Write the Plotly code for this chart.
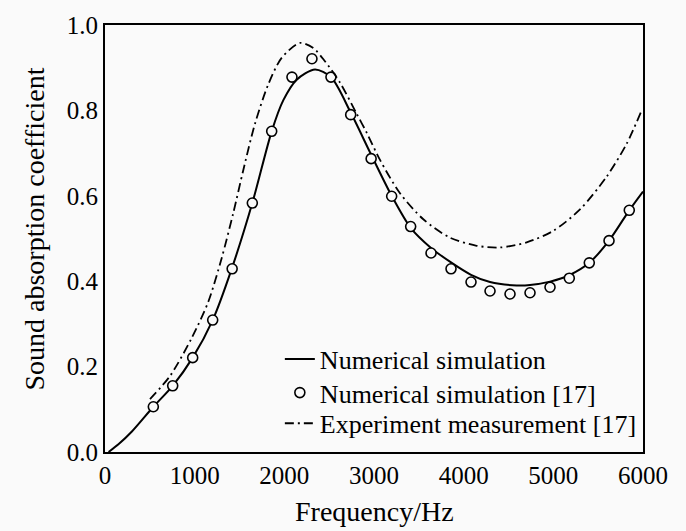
import plotly.graph_objects as go

# Numerical simulation (solid line)
sim_f = [40, 150, 300, 539, 755, 978, 1201, 1413, 1643, 1859, 1989, 2138, 2342, 2520, 2740,
         2960, 3197, 3409, 3636, 3859, 4082, 4294, 4591, 4740, 4963, 5178, 5401, 5621, 5847, 6000]
sim_a = [0.0, 0.018, 0.048, 0.106, 0.155, 0.221, 0.309, 0.429, 0.583, 0.751, 0.824, 0.872, 0.896, 0.878, 0.795,
         0.700, 0.600, 0.525, 0.478, 0.444, 0.415, 0.398, 0.390, 0.391, 0.399, 0.414, 0.443, 0.495, 0.566, 0.610]

# Numerical simulation [17] (open circles)
ref_f = [539, 755, 978, 1201, 1418, 1643, 1859, 2085, 2308, 2520, 2740, 2968, 3197, 3409,
         3636, 3859, 4082, 4294, 4517, 4740, 4963, 5178, 5401, 5621, 5847]
ref_a = [0.106, 0.155, 0.221, 0.309, 0.429, 0.583, 0.751, 0.878, 0.921, 0.878, 0.790, 0.687, 0.599, 0.528,
         0.466, 0.429, 0.398, 0.377, 0.370, 0.373, 0.386, 0.407, 0.443, 0.495, 0.566]

# Experiment measurement [17] (dash-dot)
exp_f = [502, 725, 967, 1152, 1301, 1431, 1542, 1673, 1821, 1970, 2175, 2323, 2453, 2621, 2807,
         2918, 3067, 3290, 3550, 3847, 4145, 4405, 4703, 5000, 5297, 5595, 5818, 5975]
exp_a = [0.124, 0.178, 0.267, 0.352, 0.454, 0.560, 0.660, 0.769, 0.861, 0.923, 0.958, 0.946, 0.915, 0.865, 0.792,
         0.748, 0.684, 0.606, 0.545, 0.502, 0.483, 0.479, 0.491, 0.518, 0.568, 0.645, 0.722, 0.795]

x_ticks = [0, 1000, 2000, 3000, 4000, 5000, 6000]
y_ticks = [0.0, 0.2, 0.4, 0.6, 0.8, 1.0]

FONT = "Liberation Serif"
BG = "#fafafa"

fig = go.Figure()
fig.add_trace(go.Scatter(x=sim_f, y=sim_a, mode="lines", name="Numerical simulation", legend="legend",
                         line=dict(color="black", width=2, shape="spline", smoothing=0.8)))
fig.add_trace(go.Scatter(x=ref_f, y=ref_a, mode="markers", name="Numerical simulation [17]", legend="legend2",
                         marker=dict(symbol="circle", size=10, color=BG,
                                     line=dict(color="black", width=1.6))))
fig.add_trace(go.Scatter(x=exp_f, y=exp_a, mode="lines", name="Experiment measurement [17]", legend="legend3",
                         line=dict(color="black", width=1.8, dash="9px,4px,2px,4px",
                                   shape="spline", smoothing=0.8)))

axis_common = dict(showgrid=False, zeroline=False, showline=True, linecolor="black", linewidth=2,
                   mirror=True, ticks="", tickfont=dict(family=FONT, size=25, color="black"))

leg_common = dict(x=0.325, xanchor="left", yanchor="middle", bgcolor="rgba(0,0,0,0)", borderwidth=0,
                  font=dict(family=FONT, size=26, color="black"))

fig.update_layout(
    width=686, height=531,
    margin=dict(l=105, r=43, t=20, b=79),
    paper_bgcolor=BG, plot_bgcolor=BG,
    showlegend=True,
    legend=dict(y=0.2176, **leg_common),
    legend2=dict(y=0.1389, **leg_common),
    legend3=dict(y=0.0671, **leg_common),
    xaxis=dict(range=[0, 6000], tickvals=x_ticks, ticktext=[str(v) for v in x_ticks], **axis_common),
    yaxis=dict(range=[0, 1.0], tickvals=y_ticks, ticktext=[f"{v:.1f}" for v in y_ticks], **axis_common),
    annotations=[
        dict(text="Frequency/Hz", xref="paper", yref="paper", x=0.5, y=0, yshift=-59,
             xanchor="center", yanchor="middle", showarrow=False,
             font=dict(family=FONT, size=28, color="black")),
        dict(text="Sound absorption coefficient", xref="paper", yref="paper", x=0, y=0.521,
             xshift=-70, xanchor="center", yanchor="middle", textangle=-90, showarrow=False,
             font=dict(family=FONT, size=28, color="black")),
    ],
)

fig.write_html("out.html")
